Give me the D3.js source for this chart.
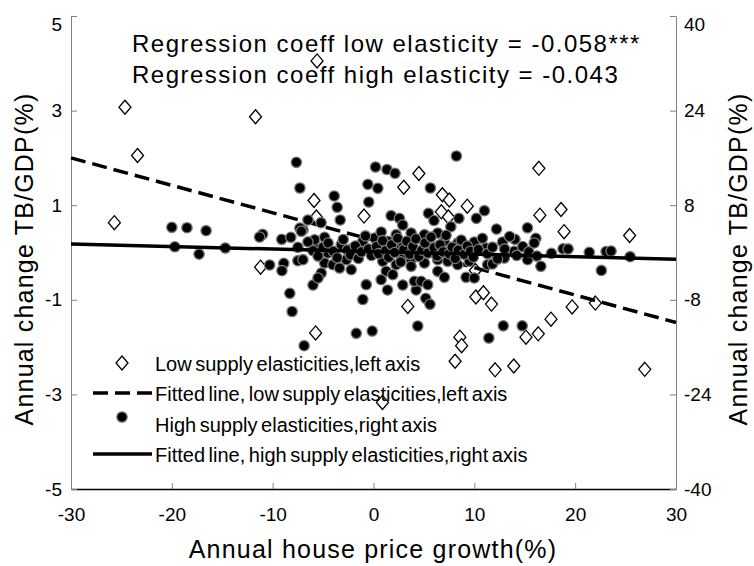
<!DOCTYPE html>
<html>
<head>
<meta charset="utf-8">
<script src="https://cdn.jsdelivr.net/npm/d3@7"></script>
<style>
  body { margin: 0; background: #fff; }
  svg { display: block; font-family: "Liberation Sans", Arial, sans-serif; }
</style>
</head>
<body>
<svg id="chart" width="754" height="566"></svg>
<script>
// ticks
var xTicks = [-30, -20, -10, 0, 10, 20, 30];
var leftTicks = [-5, -3, -1, 1, 3, 5];
var rightTicks = [-40, -24, -8, 8, 24, 40];

// low supply elasticity points (left axis)
var lowPts = [
  [-24.65, 3.07], [-23.4, 2.05], [-25.7, 0.63], [-11.7, 2.87], [-5.6, 4.05], [-5.9, 1.10],
  [-5.67, 0.75], [-0.94, 0.77], [-11.2, -0.31], [4.5, 1.67], [3.0, 1.38], [6.83, 1.22],
  [7.52, 1.11], [9.3, 0.98], [6.73, 0.86], [7.43, 0.75], [16.4, 1.78], [16.5, 0.79],
  [18.6, 0.91], [18.9, 0.44], [25.4, 0.36], [19.7, -1.15], [22.0, -1.07], [26.9, -2.47],
  [3.4, -1.14], [10.1, -0.38], [10.15, -0.94], [10.9, -0.85], [11.7, -1.09], [17.6, -1.41],
  [8.56, -1.79], [8.74, -1.97], [8.09, -2.30], [12.06, -2.48], [13.91, -2.40], [15.12, -1.79],
  [16.34, -1.72], [0.89, -3.17], [-5.74, -1.70]
];

// high supply elasticity points (right axis)
var highPts = [
  [-20.0, 4.26], [-18.5, 4.19], [-16.6, 3.69], [-19.7, 0.97], [-17.3, -0.27], [-14.7, 0.76],
  [-11.0, 3.08], [-11.3, 2.62], [-9.1, 2.23], [-8.2, 2.57], [-10.3, -2.11], [-8.9, -1.83],
  [-7.65, 15.26], [-7.3, 10.91], [-3.9, 9.56], [-3.6, 7.65], [-3.3, 5.5], [-6.5, 5.5],
  [-7.0, 3.81], [-5.2, 5.04], [-7.3, 4.14],
  [-0.56, 11.53], [-0.47, 8.54], [0.2, 14.46], [1.34, 14.04], [2.13, 13.4], [0.43, 10.86],
  [1.75, 6.22], [2.57, 5.78], [2.9, 4.65],
  [8.22, 16.32], [5.64, 10.91], [5.45, 6.63], [6.0, 5.41], [8.47, 5.78], [10.2, 5.78],
  [11.0, 7.07], [7.67, 4.36], [12.2, 3.97], [15.27, 4.18], [14.03, 2.23], [16.1, 2.4],
  [17.65, -0.14], [18.8, 0.63], [19.3, 0.6], [21.4, 0.03], [23.07, 0.17], [23.56, 0.25],
  [25.45, -0.71], [22.6, -3.04],
  [-8.3, -6.9], [-8.07, -9.98], [-6.88, -15.76], [-6.0, -5.5], [-1.71, -13.67], [-0.13, -13.28],
  [-1.06, -7.95], [-0.72, -5.45], [4.39, -12.43], [11.44, -14.46], [12.87, -12.4], [14.75, -12.4],
  [1.39, -6.34], [2.9, -5.5], [4.23, -6.34], [5.18, -7.75], [5.6, -8.76],
  [-7.16, 3.59], [-7.5, 0.88], [-9.08, -3.08], [-7.5, -1.39], [-7.0, -1.22], [-5.67, 1.05],
  [-5.84, 2.16], [-4.85, 2.57], [-4.52, -0.08], [-4.85, -1.78], [-5.18, -3.47], [-5.5, -4.31],
  [-4.03, -2.06], [-3.37, -2.62], [-2.7, -1.22], [-2.21, -2.91], [-3.2, 1.32], [-2.05, 0.76],
  [-1.06, 1.9], [0.1, 2.45], [0.76, 1.32], [0.92, -1.49], [1.26, -3.18], [0.76, -4.6],
  [2.25, -2.06], [1.91, -3.75], [1.42, 1.9], [2.25, 3.01], [2.9, -0.93], [2.9, 1.61], [0.76, 3.47],
  [3.73, 3.3], [5.05, 3.01], [6.37, 3.3], [7.03, 1.9], [8.35, 1.61], [10.0, 1.78],
  [11.16, 0.76], [12.8, 1.78], [15.94, 1.61], [13.96, 0.2], [15.28, -1.22], [16.6, -2.33],
  [3.73, -1.22], [3.73, -2.33], [5.05, -1.78], [6.37, -1.22], [7.36, -1.49], [8.35, -2.06],
  [9.5, -1.49], [6.37, -3.18], [7.03, -4.19], [9.18, -4.19], [10.0, -4.31], [11.32, -2.06],
  [11.8, -1.94], [12.97, -0.93], [4.06, -4.87], [4.72, -4.87], [5.38, -5.45],
  [-6.5, 1.8], [-6.0, 0.3], [-5.5, -0.6], [-5.0, 0.9], [-4.5, 1.6], [-4.0, 0.2],
  [-3.6, -0.9], [-3.0, 2.2], [-2.6, 0.4], [-2.3, -0.4], [-1.8, 1.1], [-1.5, -1.0],
  [-1.2, 0.1], [-0.8, 2.8], [-0.5, 0.6], [-0.2, -0.5], [0.3, 1.0], [0.5, -0.2],
  [0.9, 2.0], [1.2, 0.3], [1.5, -0.8], [1.8, 1.3], [2.1, 0.0], [2.4, 2.4],
  [2.7, -1.6], [3.0, 0.5], [3.3, 1.9], [3.6, -0.3], [3.9, 1.0], [4.2, 2.3],
  [4.5, -0.7], [4.8, 0.4], [5.1, 1.6], [5.4, -0.1], [5.7, 2.6], [6.0, 0.8],
  [6.3, -0.6], [6.6, 1.3], [6.9, 0.1], [7.2, 2.9], [7.5, -0.2], [7.8, 0.9],
  [8.1, -1.0], [8.4, 0.4], [8.7, 2.1], [9.0, -0.3], [9.3, 1.1], [9.6, 0.2],
  [9.9, -0.8], [10.4, 0.5], [10.8, 2.4], [11.3, -0.2], [11.8, 0.9], [12.3, -1.1],
  [13.0, 0.6], [13.5, 2.7], [14.2, -0.5], [14.8, 1.0], [15.4, 0.1], [16.2, -0.6]
];

// fitted line end points
var lowFit = [[-30, 2.0], [30, -1.48]];
var highFit = [[-30, 1.44], [30, -1.15]];

var notes = ['Regression coeff low elasticity = -0.058***', 'Regression coeff high elasticity = -0.043'];
var legendLabels = [
  'Low supply elasticities,left axis',
  'Fitted line, low supply elasticities,left axis',
  'High supply elasticities,right axis',
  'Fitted line, high supply elasticities,right axis'
];

var plotLeft = 71, plotRight = 676, plotTop = 16, plotBottom = 489;
var svg = d3.select('#chart');

var x = d3.scaleLinear().domain([-30, 30]).range([plotLeft, plotRight]);
var yL = d3.scaleLinear().domain([-5, 5]).range([plotBottom, plotTop]);
var yR = d3.scaleLinear().domain([-40, 40]).range([plotBottom, plotTop]);

var plain = function(d) { return String(d); }; // keep ascii hyphen minus

// axes
var gx = svg.append('g').attr('transform', 'translate(0,' + plotBottom + ')')
  .call(d3.axisBottom(x).tickValues(xTicks).tickFormat(plain).tickSizeInner(-6).tickSizeOuter(0).tickPadding(19));
var gl = svg.append('g').attr('transform', 'translate(' + plotLeft + ',0)')
  .call(d3.axisLeft(yL).tickValues(leftTicks).tickFormat(plain).tickSizeInner(-6).tickSizeOuter(0).tickPadding(9));
var gr = svg.append('g').attr('transform', 'translate(' + plotRight + ',0)')
  .call(d3.axisRight(yR).tickValues(rightTicks).tickFormat(plain).tickSizeInner(-6).tickSizeOuter(0).tickPadding(8));

[gx, gl, gr].forEach(function(g) {
  g.selectAll('text').attr('font-size', 19).attr('fill', '#000').attr('font-family', '"Liberation Sans", Arial, sans-serif');
  g.selectAll('.tick line').attr('stroke', '#808080');
});
gl.select('.domain').attr('stroke', '#808080');
gr.select('.domain').attr('stroke', '#808080');
gx.select('.domain').attr('stroke', '#000').attr('stroke-width', 1.3);
// top labels sit a bit lower, like the original
gl.selectAll('.tick').filter(function(d) { return d === 5; }).select('text').attr('dy', '0.75em');
gr.selectAll('.tick').filter(function(d) { return d === 40; }).select('text').attr('dy', '0.75em');

// low elasticity diamonds
var diamond = 'M0,-7L6,0L0,7L-6,0Z';
svg.append('g').selectAll('path').data(lowPts).enter().append('path')
  .attr('d', diamond)
  .attr('transform', function(d) { return 'translate(' + x(d[0]) + ',' + yL(d[1]) + ')'; })
  .attr('fill', '#fff').attr('stroke', '#000').attr('stroke-width', 1.3);

// dashed fit line (left axis)
var lineL = d3.line().x(function(d) { return x(d[0]); }).y(function(d) { return yL(d[1]); });
svg.append('path').datum(lowFit).attr('d', lineL)
  .attr('fill', 'none').attr('stroke', '#000').attr('stroke-width', 3.5).attr('stroke-dasharray', '15,7');

// high elasticity dots
svg.append('g').selectAll('circle').data(highPts).enter().append('circle')
  .attr('cx', function(d) { return x(d[0]); })
  .attr('cy', function(d) { return yR(d[1]); })
  .attr('r', 5.2)
  .attr('fill', '#000').attr('stroke', '#7a7a7a').attr('stroke-width', 1.3);

// solid fit line (right axis)
var lineR = d3.line().x(function(d) { return x(d[0]); }).y(function(d) { return yR(d[1]); });
svg.append('path').datum(highFit).attr('d', lineR)
  .attr('fill', 'none').attr('stroke', '#000').attr('stroke-width', 3.5);

// regression notes
svg.selectAll('.note').data(notes).enter().append('text')
  .attr('class', 'note')
  .attr('x', 132).attr('y', function(d, i) { return 52 + i * 31; })
  .attr('font-size', 24).attr('letter-spacing', 1.5)
  .text(function(d) { return d; });

// axis titles
svg.append('text').attr('x', 373).attr('y', 558).attr('text-anchor', 'middle')
  .attr('font-size', 25).attr('letter-spacing', 1.2).text('Annual house price growth(%)');
svg.append('text').attr('transform', 'translate(33,259) rotate(-90)').attr('text-anchor', 'middle')
  .attr('font-size', 25).attr('letter-spacing', 1.2).text('Annual change TB/GDP(%)');
svg.append('text').attr('transform', 'translate(747,259) rotate(-90)').attr('text-anchor', 'middle')
  .attr('font-size', 25).attr('letter-spacing', 1.2).text('Annual change TB/GDP(%)');

// legend
var leg = svg.append('g');
var rowY = [364, 394, 425, 455];
leg.selectAll('text').data(legendLabels).enter().append('text')
  .attr('x', 155).attr('y', function(d, i) { return rowY[i] + 7; })
  .attr('font-size', 20).attr('word-spacing', -2)
  .text(function(d) { return d; });
leg.append('path').attr('d', diamond).attr('transform', 'translate(122,' + (rowY[0] - 1) + ')')
  .attr('fill', '#fff').attr('stroke', '#000').attr('stroke-width', 1.3);
leg.append('line').attr('x1', 93).attr('x2', 152).attr('y1', rowY[1] - 1).attr('y2', rowY[1] - 1)
  .attr('stroke', '#000').attr('stroke-width', 3.5).attr('stroke-dasharray', '15,7');
leg.append('circle').attr('cx', 122).attr('cy', rowY[2] - 8).attr('r', 5.2)
  .attr('fill', '#000').attr('stroke', '#7a7a7a').attr('stroke-width', 1.3);
leg.append('line').attr('x1', 93).attr('x2', 152).attr('y1', rowY[3] - 1).attr('y2', rowY[3] - 1)
  .attr('stroke', '#000').attr('stroke-width', 3.5);
</script>
</body>
</html>
